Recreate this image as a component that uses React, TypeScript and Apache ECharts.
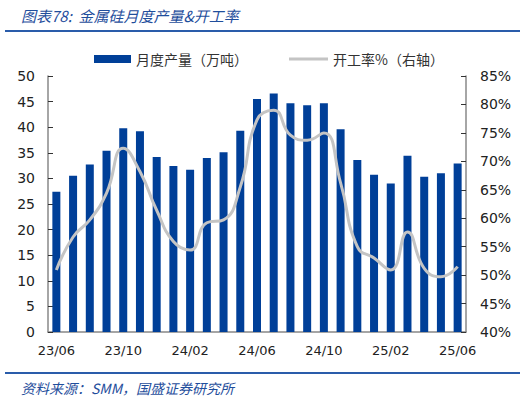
import React, { useEffect, useRef } from "react";
import * as echarts from "echarts";

const categories = [
  "23/06", "23/07", "23/08", "23/09", "23/10", "23/11", "23/12",
  "24/01", "24/02", "24/03", "24/04", "24/05", "24/06", "24/07", "24/08", "24/09", "24/10", "24/11", "24/12",
  "25/01", "25/02", "25/03", "25/04", "25/05", "25/06",
];
const output = [
  27.4, 30.5, 32.7, 35.4, 39.8, 39.2, 34.2,
  32.4, 31.7, 34.0, 35.1, 39.3, 45.5, 46.6, 44.7, 44.3, 44.7, 39.6, 33.6,
  30.7, 29.0, 34.4, 30.3, 31.0, 32.9,
];
const utilization = [
  50.9, 56.7, 59.7, 64.4, 72.3, 68.2, 61.4,
  55.9, 54.4, 59.2, 59.7, 65.5, 77.3, 79.0, 74.6, 73.7, 75.0, 66.2, 55.0,
  53.0, 50.9, 57.6, 51.2, 49.7, 51.5,
];
const leftTicks = { min: 0, max: 50, interval: 5 };
const rightTicks = { min: 40, max: 85, interval: 5 };

const BLUE = "#003f98";
const GREY = "#c4c4c4";
const HEAD = "#1f4e9c";
const numFont = "DejaVu Sans, Verdana, sans-serif";
const cjkFont = "Noto Sans CJK SC, sans-serif";

export default function App() {
  const ref = useRef<HTMLDivElement>(null);
  useEffect(() => {
    if (!ref.current) return;
    const chart = echarts.init(ref.current, null, { renderer: "svg" });
    chart.setOption({
      animation: false,
      backgroundColor: "#ffffff",
      title: [
        {
          text: "图表78:  金属硅月度产量&开工率",
          left: 16,
          top: 3,
          textStyle: { color: HEAD, fontSize: 15, fontStyle: "italic", fontWeight: "normal", fontFamily: cjkFont },
        },
        {
          text: "资料来源：SMM，国盛证券研究所",
          left: 16,
          top: 376,
          textStyle: { color: HEAD, fontSize: 14, fontStyle: "italic", fontWeight: "normal", fontFamily: cjkFont },
        },
      ],
      graphic: [
        { type: "rect", shape: { x: 5, y: 30, width: 515, height: 2 }, style: { fill: "#2a5caa" } },
        { type: "rect", shape: { x: 5, y: 372, width: 515, height: 2 }, style: { fill: "#2a5caa" } },
      ],
      legend: [
        {
          left: 89,
          top: 47,
          itemWidth: 37,
          itemHeight: 8,
          textStyle: { fontSize: 14, color: "#333", fontFamily: cjkFont },
          data: [{ name: "月度产量（万吨）", icon: "rect" }],
        },
        {
          left: 284,
          top: 47,
          itemWidth: 39,
          itemHeight: 3,
          textStyle: { fontSize: 14, color: "#333", fontFamily: cjkFont },
          data: [{ name: "开工率%（右轴）", icon: "rect" }],
        },
      ],
      grid: { left: 48, right: 59, top: 76, bottom: 66 },
      xAxis: {
        type: "category",
        data: categories,
        boundaryGap: true,
        axisLine: { lineStyle: { color: "#888", width: 1.5 } },
        axisTick: { inside: true, interval: 3, length: 5, lineStyle: { color: "#333" } },
        axisLabel: { interval: 3, fontSize: 13, color: "#222", fontFamily: numFont, margin: 12 },
      },
      yAxis: [
        {
          type: "value",
          min: leftTicks.min,
          max: leftTicks.max,
          interval: leftTicks.interval,
          axisLine: { show: true, lineStyle: { color: "#888", width: 1.5 } },
          axisTick: { show: true, inside: true, length: 5, lineStyle: { color: "#333" } },
          splitLine: { show: false },
          axisLabel: { fontSize: 14, color: "#222", fontFamily: numFont, margin: 13 },
        },
        {
          type: "value",
          min: rightTicks.min,
          max: rightTicks.max,
          interval: rightTicks.interval,
          position: "right",
          axisLine: { show: true, lineStyle: { color: "#888", width: 1.5 } },
          axisTick: { show: true, inside: true, length: 5, lineStyle: { color: "#333" } },
          splitLine: { show: false },
          axisLabel: { fontSize: 14, color: "#222", fontFamily: numFont, margin: 14, formatter: "{value}%" },
        },
      ],
      series: [
        {
          name: "月度产量（万吨）",
          type: "bar",
          data: output,
          barWidth: 8,
          itemStyle: { color: BLUE },
        },
        {
          name: "开工率%（右轴）",
          type: "line",
          yAxisIndex: 1,
          data: utilization,
          smooth: true,
          symbol: "none",
          lineStyle: { color: GREY, width: 3 },
          itemStyle: { color: GREY },
        },
      ],
    });
    return () => chart.dispose();
  }, []);
  return <div ref={ref} style={{ width: 525, height: 398, position: "absolute", left: 0, top: 0 }} />;
}
